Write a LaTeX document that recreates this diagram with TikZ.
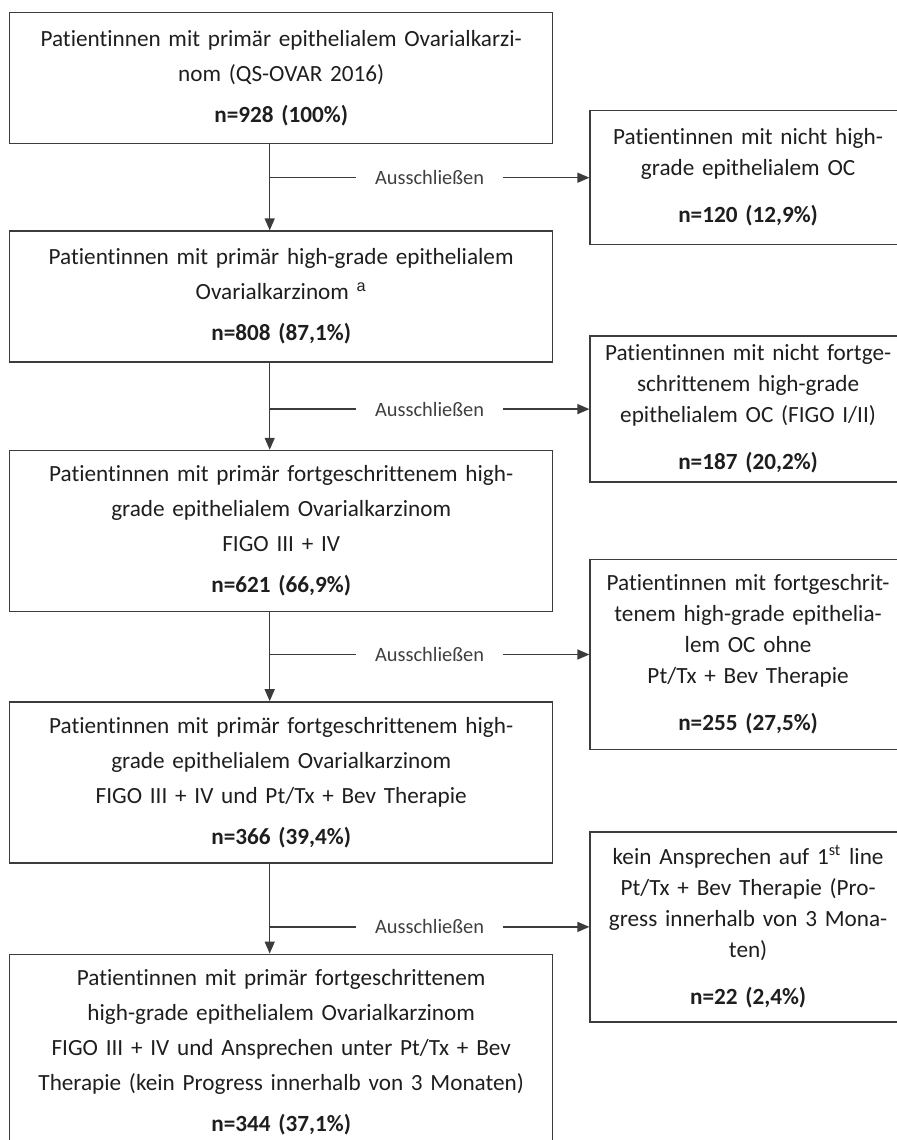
\documentclass[tikz,border=0pt]{standalone}
\usepackage{fontspec}
\setmainfont{Carlito}[Ligatures=NoCommon]
\newfontfamily\arialfont{Liberation Sans}
\usetikzlibrary{arrows.meta,positioning}

\definecolor{boxline}{HTML}{3C3C3C}
\definecolor{txt}{HTML}{1E1E1E}

\tikzset{
  flowbox/.style={draw=boxline, line width=0.7pt, text=txt, align=center,
    text width=262pt, minimum width=271.5pt, inner sep=0pt,
    font=\fontsize{11.6}{17.5}\selectfont},
  exbox/.style={flowbox, text width=154pt, minimum width=158pt,
    font=\fontsize{11.6}{15.5}\selectfont},
  exlabel/.style={fill=white, text=txt!85, inner xsep=9.5pt, inner ysep=1pt,
    font=\fontsize{10.2}{12}\selectfont},
}

\begin{document}
\begin{tikzpicture}[>={Triangle[length=6pt,width=5pt]}, boxline, line width=0.7pt]

            \useasboundingbox (0,0) rectangle (448.5pt,-570pt);
            \clip (0,0) rectangle (448.5pt,-570pt);

            \node[flowbox, minimum height=65.5pt, anchor=north west] (ov1) at (4.5pt,-6pt)
              {Patientinnen mit primär epithelialem Ovarialkarzi-\\nom (QS-OVAR 2016)\\[3pt]\textbf{n=928 (100\%)}};

            \node[flowbox, minimum height=65.5pt] (ov2) [below=43pt of ov1]
              {Patientinnen mit primär high-grade epithelialem\\Ovarialkarzinom {\arialfont\textsuperscript{a}}\\[3pt]\textbf{n=808 (87,1\%)}};

            \node[flowbox, minimum height=80.5pt] (ov3) [below=43.5pt of ov2]
              {Patientinnen mit primär fortgeschrittenem high-\\grade epithelialem Ovarialkarzinom\\FIGO III + IV\\[3pt]\textbf{n=621 (66,9\%)}};

            \node[flowbox, minimum height=80.5pt] (ov4) [below=44.5pt of ov3]
              {Patientinnen mit primär fortgeschrittenem high-\\grade epithelialem Ovarialkarzinom\\FIGO III + IV und Pt/Tx + Bev Therapie\\[3pt]\textbf{n=366 (39,4\%)}};

            \node[flowbox, minimum height=98pt] (ov5) [below=45pt of ov4]
              {Patientinnen mit primär fortgeschrittenem\\high-grade epithelialem Ovarialkarzinom\\FIGO III + IV und Ansprechen unter Pt/Tx + Bev\\Therapie (kein Progress innerhalb von 3 Monaten)\\[3pt]\textbf{n=344 (37,1\%)}};

            \node[exbox, minimum height=67pt] (ex1) [below right=49pt and 18pt of ov1.north east]
              {Patientinnen mit nicht high-\\grade epithelialem OC\\[8pt]\textbf{n=120 (12,9\%)}};

            \node[exbox, minimum height=73pt] (ex2) [below right=52.5pt and 18pt of ov2.north east]
              {Patientinnen mit nicht fortge-\\schrittenem high-grade\\epithelialem OC (FIGO I/II)\\[8pt]\textbf{n=187 (20,2\%)}};

            \node[exbox, minimum height=95pt] (ex3) [below right=54.5pt and 18pt of ov3.north east]
              {Patientinnen mit fortgeschrit-\\tenem high-grade epithelia-\\lem OC ohne\\Pt/Tx + Bev Therapie\\[8pt]\textbf{n=255 (27,5\%)}};

            \node[exbox, minimum height=95pt] (ex4) [below right=65pt and 18pt of ov4.north east]
              {kein Ansprechen auf 1\textsuperscript{st} line\\Pt/Tx + Bev Therapie (Pro-\\gress innerhalb von 3 Mona-\\ten)\\[8pt]\textbf{n=22 (2,4\%)}};

            \foreach \a/\b/\e in {ov1/ov2/ex1, ov2/ov3/ex2, ov3/ov4/ex3, ov4/ov5/ex4}
	   {
                \coordinate (t\a) at ([xshift=-5.75pt]\a.south);
                \draw[->] (t\a) -- (t\a |- \b.north);
                \draw[->] (t\a |- \e.west) -- node[exlabel] {Ausschließen} (\e.west);
              }

        \end{tikzpicture}
\end{document}
